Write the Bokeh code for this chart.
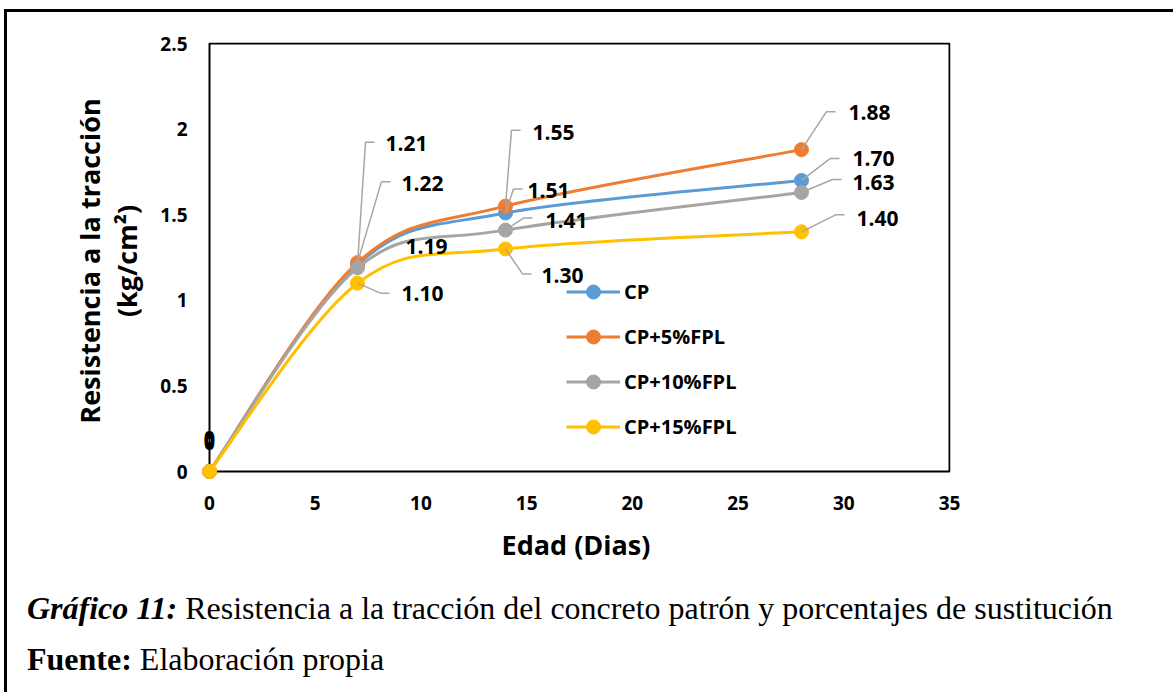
from bokeh.plotting import figure
from bokeh.models import (ColumnDataSource, LabelSet, Legend, LegendItem,
                          FixedTicker, BoxAnnotation, Range1d, Div)
from bokeh.layouts import column
from bokeh.core.properties import value
from bokeh.embed import file_html
from bokeh.resources import INLINE

# ---------------- data ----------------
days = [0, 7, 14, 28]
series_names = ["CP", "CP+5%FPL", "CP+10%FPL", "CP+15%FPL"]
cp = [0.00, 1.21, 1.51, 1.70]
cp5 = [0.00, 1.22, 1.55, 1.88]
cp10 = [0.00, 1.19, 1.41, 1.63]
cp15 = [0.00, 1.10, 1.30, 1.40]
x_ticks = [0, 5, 10, 15, 20, 25, 30, 35]
x_tick_labels = ["0", "5", "10", "15", "20", "25", "30", "35"]
y_ticks = [0, 0.5, 1, 1.5, 2, 2.5]
y_tick_labels = ["0", "0.5", "1", "1.5", "2", "2.5"]
x_title = "Edad (Dias)"
y_title = "Resistencia a la tracción\n(kg/cm²)"
caption_1a = "Gráfico 11:"
caption_1b = "Resistencia a la tracción del concreto patrón y porcentajes de sustitución"
caption_2a = "Fuente:"
caption_2b = "Elaboración propia"

# ---------------- style ----------------
colors = ["#5B9BD5", "#ED7D31", "#A5A5A5", "#FFC000"]
FONT = "Open Sans"
FIG_W, FIG_H, CAP_H = 1166, 570, 110
XR, YR = (0, 35), (0, 2.5)
DL, DR, DT, DB = 202, 942, 31, 459          # data box edges inside the figure
PX = (DR - DL) / (XR[1] - XR[0])
PY = (DB - DT) / (YR[1] - YR[0])
EXT_LB, EXT_RT = 8, 1                        # extra room so edge markers are not cut
# per series label placement (pixels, screen y downwards) for points 1..3:
# (elbow dx, elbow dy, text dx, text dy); None elbow -> no leader
label_style = [
    [(8, -122, 28, -121), (8, -24, 22, -22), (29, -22, 51, -22)],
    [(24, -81, 44, -79), (6, -76, 27, -74), (25, -38, 47, -37)],
    [(None, None, 48, -21), (18, -12, 40, -10), (31, -13, 51, -10)],
    [(23, 10, 44, 10), (17, 25, 36, 27), (34, -17, 55, -13)],
]
HOR = 9

all_series = [cp, cp5, cp10, cp15]

p = figure(width=FIG_W, height=FIG_H, output_backend="svg", toolbar_location=None,
           x_range=Range1d(XR[0] - EXT_LB / PX, XR[1] + EXT_RT / PX),
           y_range=Range1d(YR[0] - EXT_LB / PY, YR[1] + EXT_RT / PY),
           min_border_left=DL - EXT_LB, min_border_right=FIG_W - DR - EXT_RT,
           min_border_top=DT - EXT_RT, min_border_bottom=FIG_H - DB - EXT_LB)
p.grid.visible = False
p.background_fill_color = "white"
p.border_fill_color = "white"
p.outline_line_color = None

# plot-area box on the data limits
p.add_layout(BoxAnnotation(left=XR[0], right=XR[1], bottom=YR[0], top=YR[1],
                           fill_alpha=0, line_color="black", line_alpha=1.0,
                           line_width=2, level="underlay"))

for ax in (p.xaxis[0], p.yaxis[0]):
    ax.major_tick_line_color = None
    ax.minor_tick_line_color = None
    ax.axis_line_color = None
    ax.major_label_text_font = FONT
    ax.major_label_text_font_style = "bold"
    ax.major_label_text_font_size = "19px"
    ax.major_label_text_color = "black"
    ax.axis_label_text_font = FONT
    ax.axis_label_text_font_style = "bold"
    ax.axis_label_text_font_size = "27px"
    ax.axis_label_text_color = "black"

p.xaxis.ticker = FixedTicker(ticks=x_ticks)
p.xaxis.major_label_overrides = {t: l for t, l in zip(x_ticks, x_tick_labels)}
p.yaxis.ticker = FixedTicker(ticks=y_ticks)
p.yaxis.major_label_overrides = {t: l for t, l in zip(y_ticks, y_tick_labels)}
p.xaxis.axis_label = x_title
p.yaxis.axis_label = y_title
p.xaxis.major_label_standoff = 10
p.xaxis.axis_label_standoff = 13
p.yaxis.major_label_standoff = 8
p.yaxis.axis_label_standoff = 12
p.yaxis.axis_label_text_line_height = 1.0


def smooth(xs, ys):
    """Bezier control points of a Catmull-Rom (Excel style) smoothing."""
    n = len(xs)
    out = {k: [] for k in ("x0", "y0", "x1", "y1", "cx0", "cy0", "cx1", "cy1")}
    for i in range(n - 1):
        im, ip2 = max(i - 1, 0), min(i + 2, n - 1)
        out["x0"].append(xs[i]); out["y0"].append(ys[i])
        out["x1"].append(xs[i + 1]); out["y1"].append(ys[i + 1])
        out["cx0"].append(xs[i] + (xs[i + 1] - xs[im]) / 6)
        out["cy0"].append(ys[i] + (ys[i + 1] - ys[im]) / 6)
        out["cx1"].append(xs[i + 1] - (xs[ip2] - xs[i]) / 6)
        out["cy1"].append(ys[i + 1] - (ys[ip2] - ys[i]) / 6)
    return out


items = []
for vals, name, col in zip(all_series, series_names, colors):
    b = p.bezier(x0="x0", y0="y0", x1="x1", y1="y1", cx0="cx0", cy0="cy0",
                 cx1="cx1", cy1="cy1", source=ColumnDataSource(smooth(days, vals)),
                 line_color=col, line_width=3)
    s = p.scatter(days, vals, size=14, fill_color=col, line_color=col)
    items.append(LegendItem(label=name, renderers=[b, s]))

# leader lines and value labels
lx, ly, ltxt, lox, loy = [], [], [], [], []
mxs, mys = [], []
for vals, st in zip(all_series, label_style):
    for (d, v), (ex, ey, tx, ty) in zip(list(zip(days, vals))[1:], st):
        if ex is not None:
            x_e = d + ex / PX
            y_e = v - ey / PY
            mxs.append([d, x_e, x_e + HOR / PX])
            mys.append([v, y_e, y_e])
        lx.append(d); ly.append(v); ltxt.append("%.2f" % v)
        lox.append(tx); loy.append(-ty)
p.multi_line(mxs, mys, line_color="#A6A6A6", line_width=1.5)
p.add_layout(LabelSet(x="x", y="y", text="t", x_offset="ox", y_offset="oy",
                      source=ColumnDataSource(dict(x=lx, y=ly, t=ltxt, ox=lox, oy=loy)),
                      text_font=value(FONT), text_font_style=value("bold"),
                      text_font_size=value("21px"), text_color="black",
                      text_align="left", text_baseline="middle"))
# zero labels at day 0 (they overlap, as in the source)
zx = [days[0] for _ in all_series]
zy = [s[0] for s in all_series]
zt = ["%g" % s[0] for s in all_series]
zoy = [29, 31, 33, 34]
p.add_layout(LabelSet(x="x", y="y", text="t", y_offset="oy",
                      source=ColumnDataSource(dict(x=zx, y=zy, t=zt, oy=zoy)),
                      text_font=value(FONT), text_font_style=value("bold"),
                      text_font_size=value("19px"), text_color="black",
                      text_align="center", text_baseline="middle"))

legend = Legend(items=items, location=(365, 35), orientation="vertical",
                glyph_width=54, glyph_height=35, label_height=35, spacing=10,
                label_standoff=4, padding=0, margin=0,
                label_text_font=FONT, label_text_font_style="bold",
                label_text_font_size="20px", label_text_color="black",
                border_line_color=None, background_fill_alpha=0)
p.add_layout(legend)

SERIF = "'Liberation Serif', 'Times New Roman', serif"
cap_html = (
    f'<div style="font-family:{SERIF};font-size:32px;color:black;'
    f'line-height:51px;padding:1px 0 0 20px;white-space:nowrap;">'
    f'<div><b><i>{caption_1a}</i></b> {caption_1b}</div>'
    f'<div><b>{caption_2a}</b> {caption_2b}</div></div>'
)
cap = Div(text=cap_html, width=FIG_W, height=CAP_H,
          styles={"margin": "0", "padding": "0"})

layout = column(p, cap, spacing=0,
                styles={"margin-left": "4px", "margin-top": "9px",
                        "border-left": "3px solid black",
                        "border-top": "3px solid black",
                        "background-color": "white"})

open("out.html", "w").write(file_html(layout, INLINE))
